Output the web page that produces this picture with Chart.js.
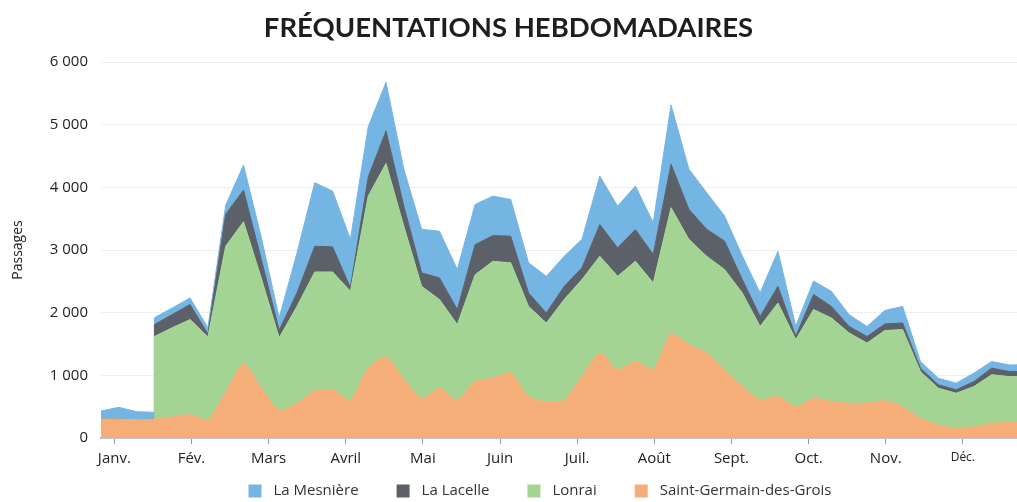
<!DOCTYPE html>
<html lang="fr">
<head>
<meta charset="utf-8">
<title>Fréquentations hebdomadaires</title>
<script src="https://cdn.jsdelivr.net/npm/chart.js@4.4.1/dist/chart.umd.min.js"></script>
<style>
  html, body { margin: 0; padding: 0; background: #fff; }
  #wrap { width: 1017px; height: 502px; position: relative; }
</style>
</head>
<body>
<div id="wrap"><canvas id="chart"></canvas></div>
<script>
// semaines de l'annee (axe x)
var semaines = [1, 2, 3, 4, 5, 6, 7, 8, 9, 10, 11, 12, 13, 14, 15, 16, 17, 18, 19, 20,
  21, 22, 23, 24, 25, 26, 27, 28, 29, 30, 31, 32, 33, 34, 35, 36, 37, 38, 39, 40,
  41, 42, 43, 44, 45, 46, 47, 48, 49, 50, 51, 52, 53];
var mois = ['Janv.', 'Fév.', 'Mars', 'Avril', 'Mai', 'Juin', 'Juil.', 'Août', 'Sept.', 'Oct.', 'Nov.', 'Déc.'];
var yTicks = [0, 1000, 2000, 3000, 4000, 5000, 6000];

// passages par semaine (null = pas de comptage)
var saintGermain = [300, 300, 290, 300, 335, 370, 290, 730, 1180, 800, 440, 555, 755, 770, 610, 1115, 1290,
  940, 635, 795, 610, 900, 955, 1035, 660, 580, 610, 980, 1355, 1090, 1220, 1090, 1660, 1490, 1355, 1090,
  820, 610, 660, 500, 635, 580, 555, 555, 595, 500, 315, 210, 155, 180, 235, 245, 250];
var lonrai = [null, null, null, 1320, 1425, 1520, 1320, 2330, 2270, 1750, 1160, 1545, 1895, 1880, 1730, 2745, 3090,
  2440, 1785, 1415, 1200, 1705, 1865, 1760, 1440, 1255, 1600, 1550, 1545, 1490, 1600, 1385, 2015, 1680, 1545, 1600,
  1495, 1170, 1495, 1070, 1415, 1335, 1120, 960, 1120, 1230, 745, 585, 560, 640, 775, 735, 735];
var laLacelle = [null, null, null, 190, 210, 240, 50, 510, 505, 300, 120, 215, 410, 400, 60, 305, 520,
  320, 215, 345, 240, 480, 410, 425, 215, 160, 210, 185, 505, 455, 505, 455, 695, 480, 430, 455,
  215, 160, 265, 55, 240, 185, 105, 105, 105, 105, 55, 55, 55, 80, 105, 80, 75];
var laMesniere = [130, 190, 130, 110, 105, 105, 100, 145, 400, 350, 200, 635, 1015, 890, 770, 800, 775,
  590, 695, 745, 640, 640, 630, 585, 480, 585, 480, 455, 775, 665, 695, 505, 945, 640, 585, 400,
  375, 375, 560, 160, 215, 240, 185, 160, 215, 265, 105, 105, 105, 135, 105, 105, 110];

// de bas en haut
var series = [
  { label: 'Saint-Germain-des-Grois', data: saintGermain, color: '#f6ae78' },
  { label: 'Lonrai', data: lonrai, color: '#a4d494' },
  { label: 'La Lacelle', data: laLacelle, color: '#5c6068' },
  { label: 'La Mesnière', data: laMesniere, color: '#74b5e3' }
];

// cumul jusqu'a la serie k ; avant = la semaine ou une serie commence compte pour 0
function cumul(k, i, avant) {
  var s = 0;
  for (var j = 0; j <= k; j++) {
    var v = series[j].data[i];
    if (avant && series[j].data[i - 1] == null) v = 0;
    s += v || 0;
  }
  return s;
}

var datasets = series.map(function (serie, k) {
  var pts = [];
  for (var i = 0; i < semaines.length; i++) {
    if (i > 0) {
      var before = cumul(k, i, true);
      var after = cumul(k, i, false);
      if (before !== after) pts.push({ x: semaines[i], y: before });
    }
    pts.push({ x: semaines[i], y: cumul(k, i, false) });
  }
  return {
    label: serie.label,
    data: pts,
    backgroundColor: serie.color,
    borderColor: serie.color,
    borderWidth: 1,
    pointRadius: 0,
    tension: k === 0 ? 0.25 : 0,
    fill: k === 0 ? 'origin' : '-1'
  };
});

function milliers(v) {
  return String(v).replace(/\B(?=(\d{3})+(?!\d))/g, ' ');
}

// legende dessinee a la main (ordre inverse, comme l'original)
var legendeBas = {
  id: 'legendeBas',
  afterDraw: function (chart) {
    var ctx = chart.ctx;
    var items = chart.data.datasets.slice().reverse();
    var box = 13, gapText = 12, gapItem = 38;
    ctx.save();
    ctx.font = '15px "Open Sans"';
    var widths = items.map(function (d) { return box + gapText + ctx.measureText(d.label).width; });
    var total = widths.reduce(function (a, b) { return a + b; }, 0) + gapItem * (items.length - 1);
    var x = 540 - total / 2, y = 491;
    items.forEach(function (d, i) {
      ctx.fillStyle = d.backgroundColor;
      ctx.fillRect(x, y - box / 2, box, box);
      ctx.fillStyle = '#333';
      ctx.textBaseline = 'middle';
      ctx.textAlign = 'left';
      ctx.fillText(d.label, x + box + gapText, y);
      x += widths[i] + gapItem;
    });
    ctx.restore();
  }
};

new Chart(document.getElementById('chart'), {
  type: 'line',
  data: { datasets: datasets },
  plugins: [legendeBas],
  options: {
    responsive: true,
    maintainAspectRatio: false,
    animation: false,
    layout: { padding: { top: 0, right: 0, bottom: 28, left: 0 } },
    plugins: {
      legend: { display: false },
      tooltip: { enabled: false },
      title: {
        display: true,
        text: 'FRÉQUENTATIONS HEBDOMADAIRES',
        color: '#1e1e1e',
        font: { family: 'Lato', size: 27.5, weight: 'bold' },
        padding: { top: 12, bottom: 17 }
      }
    },
    scales: {
      x: {
        type: 'linear',
        min: 1,
        max: 52.42,
        afterBuildTicks: function (scale) {
          scale.ticks = mois.map(function (m, i) { return { value: 1.75 + i * 4.33 }; });
        },
        grid: { drawOnChartArea: false, drawTicks: true, tickLength: 6, color: '#999' },
        border: { display: true, color: '#999', width: 1.5 },
        ticks: {
          autoSkip: false,
          maxRotation: 0,
          padding: 6,
          color: '#222',
          font: function (ctx) {
            return { family: 'Open Sans', size: ctx.index === 11 ? 12 : 15 };
          },
          callback: function (value, index) { return mois[index]; }
        }
      },
      y: {
        min: 0,
        max: 6000,
        afterBuildTicks: function (scale) {
          scale.ticks = yTicks.map(function (v) { return { value: v }; });
        },
        afterFit: function (scale) { scale.width = 101; },
        grid: { color: '#eeeeee', drawTicks: false },
        border: { display: false },
        ticks: {
          padding: 13,
          color: '#222',
          font: { family: 'Open Sans', size: 15 },
          callback: function (v) { return milliers(v); }
        },
        title: {
          display: true,
          text: 'Passages',
          color: '#222',
          font: { family: 'Open Sans', size: 14 },
          padding: { top: 10, bottom: 0 }
        }
      }
    }
  }
});
</script>
</body>
</html>
